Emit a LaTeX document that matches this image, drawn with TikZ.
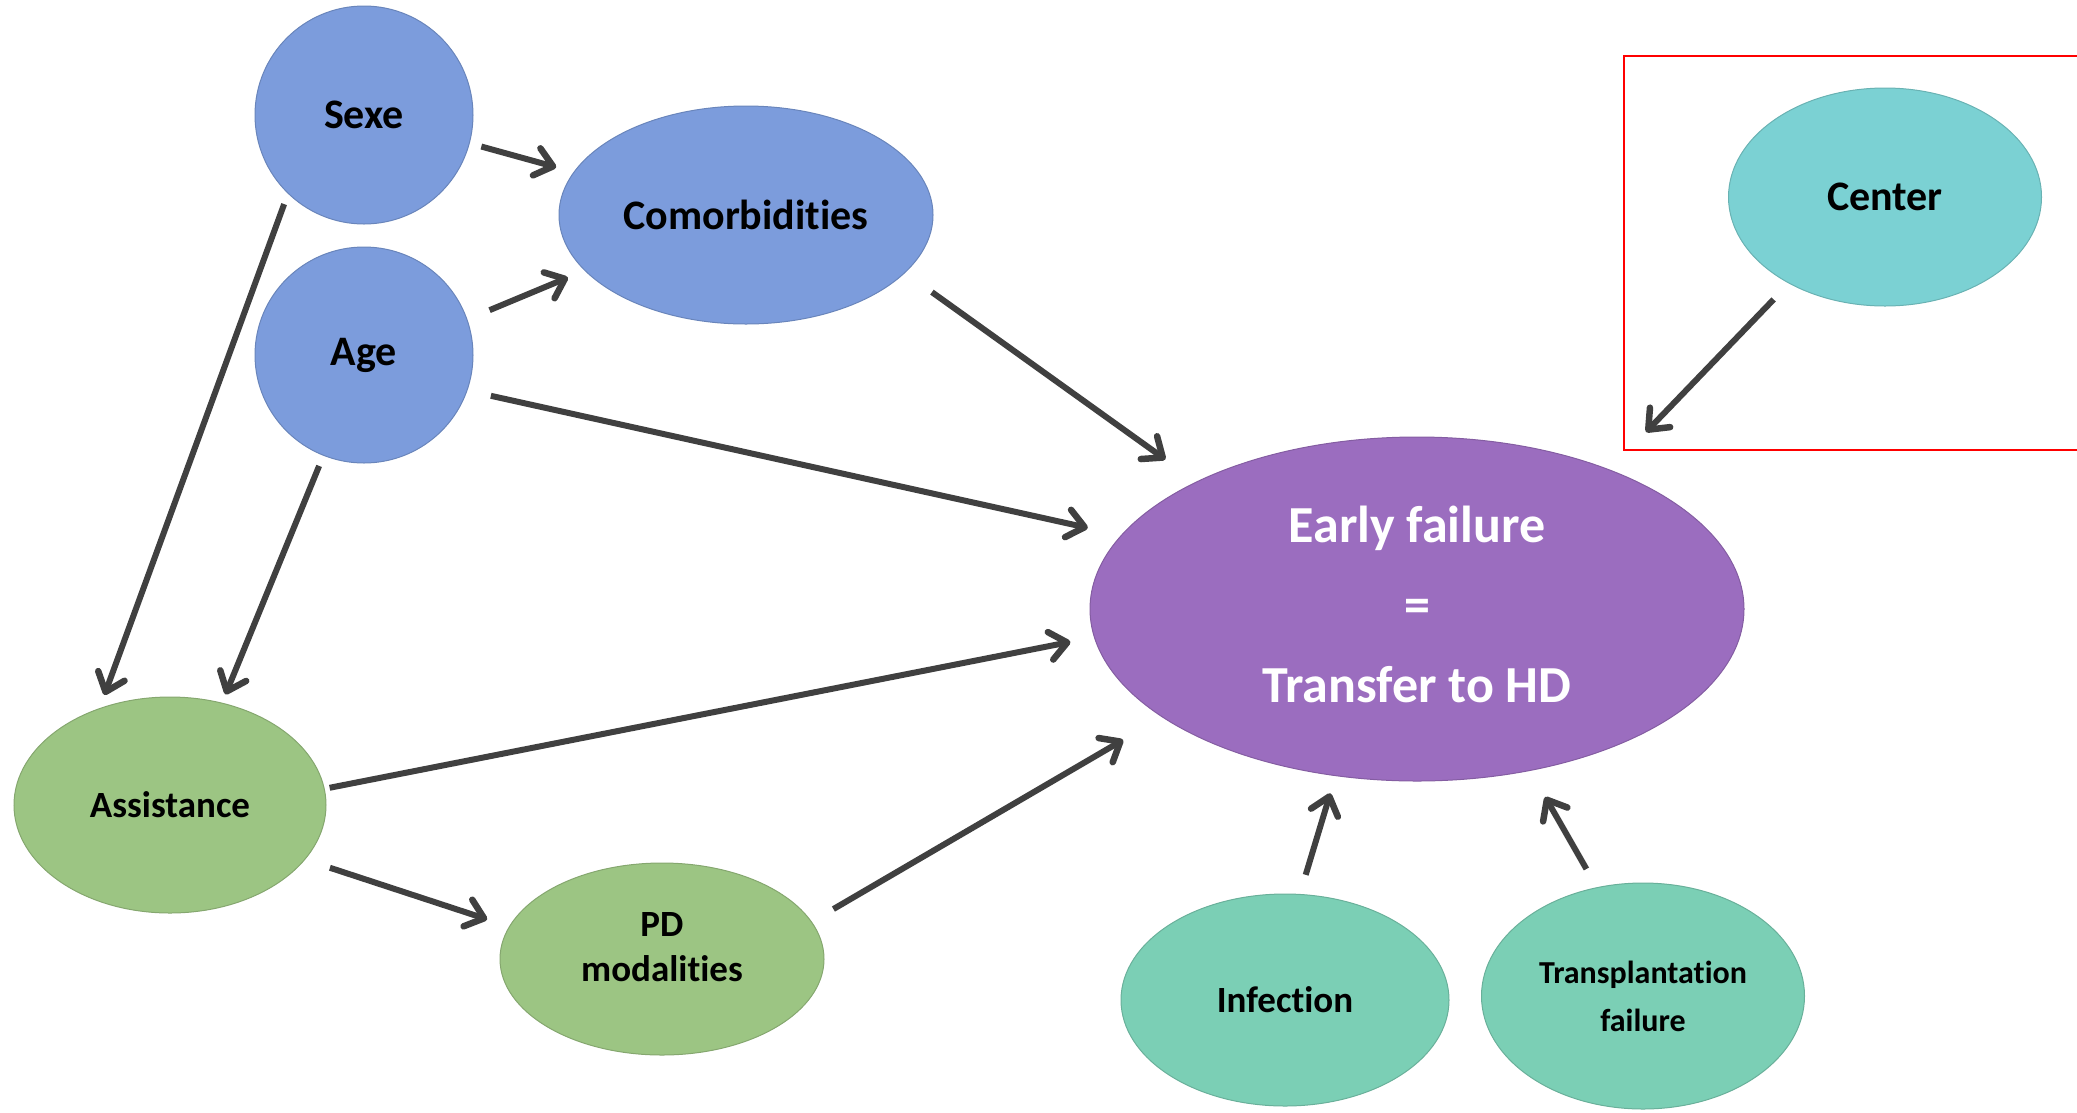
\documentclass[tikz,border=0pt]{standalone}
\usepackage{fontspec}
\setmainfont{Carlito}[Ligatures=NoCommon]
\usetikzlibrary{shapes.geometric,arrows.meta}

\definecolor{blobblue}{HTML}{7C9CDC}
\definecolor{blobpurple}{HTML}{9B6DBF}
\definecolor{blobcyan}{HTML}{7BD1D3}
\definecolor{blobmint}{HTML}{7BCFB5}
\definecolor{blobgreen}{HTML}{9CC583}
\definecolor{arrowgray}{HTML}{404040}

\begin{document}
\begin{tikzpicture}[x=1pt, y=-1pt,
    blob/.style={ellipse, draw=#1!85!black, line width=1pt, fill=#1, inner sep=0pt},
    txtbig/.style={font=\bfseries\fontsize{42}{50}\selectfont},
    txtmid/.style={font=\bfseries\fontsize{37}{45}\selectfont, align=center},
    link/.style={-{Straight Barb[length=17pt,width=28pt,round,line width=6.5pt]}, line width=6pt, draw=arrowgray}]
        \useasboundingbox (0,0) rectangle (2077,1112);
        % Patient factors
        \node[blob=blobblue, txtbig, minimum width=218pt, minimum height=218pt] (sexe) at (364,115) {Sexe};
        \node[blob=blobblue, txtbig, minimum width=218pt, minimum height=216pt] (age) at (364,355) {Age};
        \node[blob=blobblue, txtbig, minimum width=374pt, minimum height=218pt] (comorb) at (746,215) {Comorbidities};
        % Outcome
        \node[blob=blobpurple, text=white, align=center, font=\bfseries\fontsize{52}{80}\selectfont,
              text depth=10pt, minimum width=654pt, minimum height=344pt] (fail) at (1417,609) {Early failure\\=\\Transfer to HD};
        % Center effect
        \draw[red, line width=2.6pt] (2077,56) -- (1624,56) -- (1624,450) -- (2077,450);
        \node[blob=blobcyan, txtbig, minimum width=313pt, minimum height=218pt] (ctr) at (1885,197) {Center};
        \coordinate (ctrend) at (1646,432);
        % Care
        \node[blob=blobgreen, txtmid, minimum width=312pt, minimum height=216pt] (assist) at (170,805) {Assistance};
        \node[blob=blobgreen, txtmid, text depth=24pt, minimum width=324pt, minimum height=192pt] (pdmod) at (662,959) {PD\\modalities};
        % Events
        \node[blob=blobmint, txtmid, minimum width=328pt, minimum height=212pt] (infect) at (1285,1000) {Infection};
        \node[blob=blobmint, align=center, font=\bfseries\fontsize{32}{48}\selectfont,
              minimum width=323pt, minimum height=226pt] (transpl) at (1643,996) {Transplantation\\failure};

        \draw[link, shorten <=12pt, shorten >=18pt] (sexe.-15.3) -- (comorb.166.1);
        \draw[link, shorten <=24pt, shorten >=18pt] (age.19.2) -- (comorb.-161.2);
        \draw[link, shorten <=11pt, shorten >=14pt] (sexe.-134.3) -- (assist.126.5);
        \draw[link, shorten <=11pt, shorten >=9pt] (age.-112.1) -- (assist.63.6);
        \draw[link, shorten <=33pt, shorten >=38pt] (comorb.-20.3) -- (fail.150.4);
        \draw[link, shorten <=24pt, shorten >=34pt] (age.-19.2) -- (fail.166.6);
        \draw[link, shorten <=5pt, shorten >=24pt] (assist.6.8) -- (fail.-175.2);
        \draw[link, shorten <=26pt, shorten >=23pt] (assist.-22.2) -- (pdmod.168.4);
        \draw[link, shorten <=25pt, shorten >=45pt] (pdmod.14.7) -- (fail.-157.9);
        \draw[link, shorten <=20pt, shorten >=18pt] (infect.82.8) -- (fail.-116.7);
        \draw[link, shorten <=21pt, shorten >=30pt] (transpl.113.8) -- (fail.-55.1);
        \draw[link, shorten <=22pt] (ctr.-138.7) -- (ctrend);
    \end{tikzpicture}
\end{document}
